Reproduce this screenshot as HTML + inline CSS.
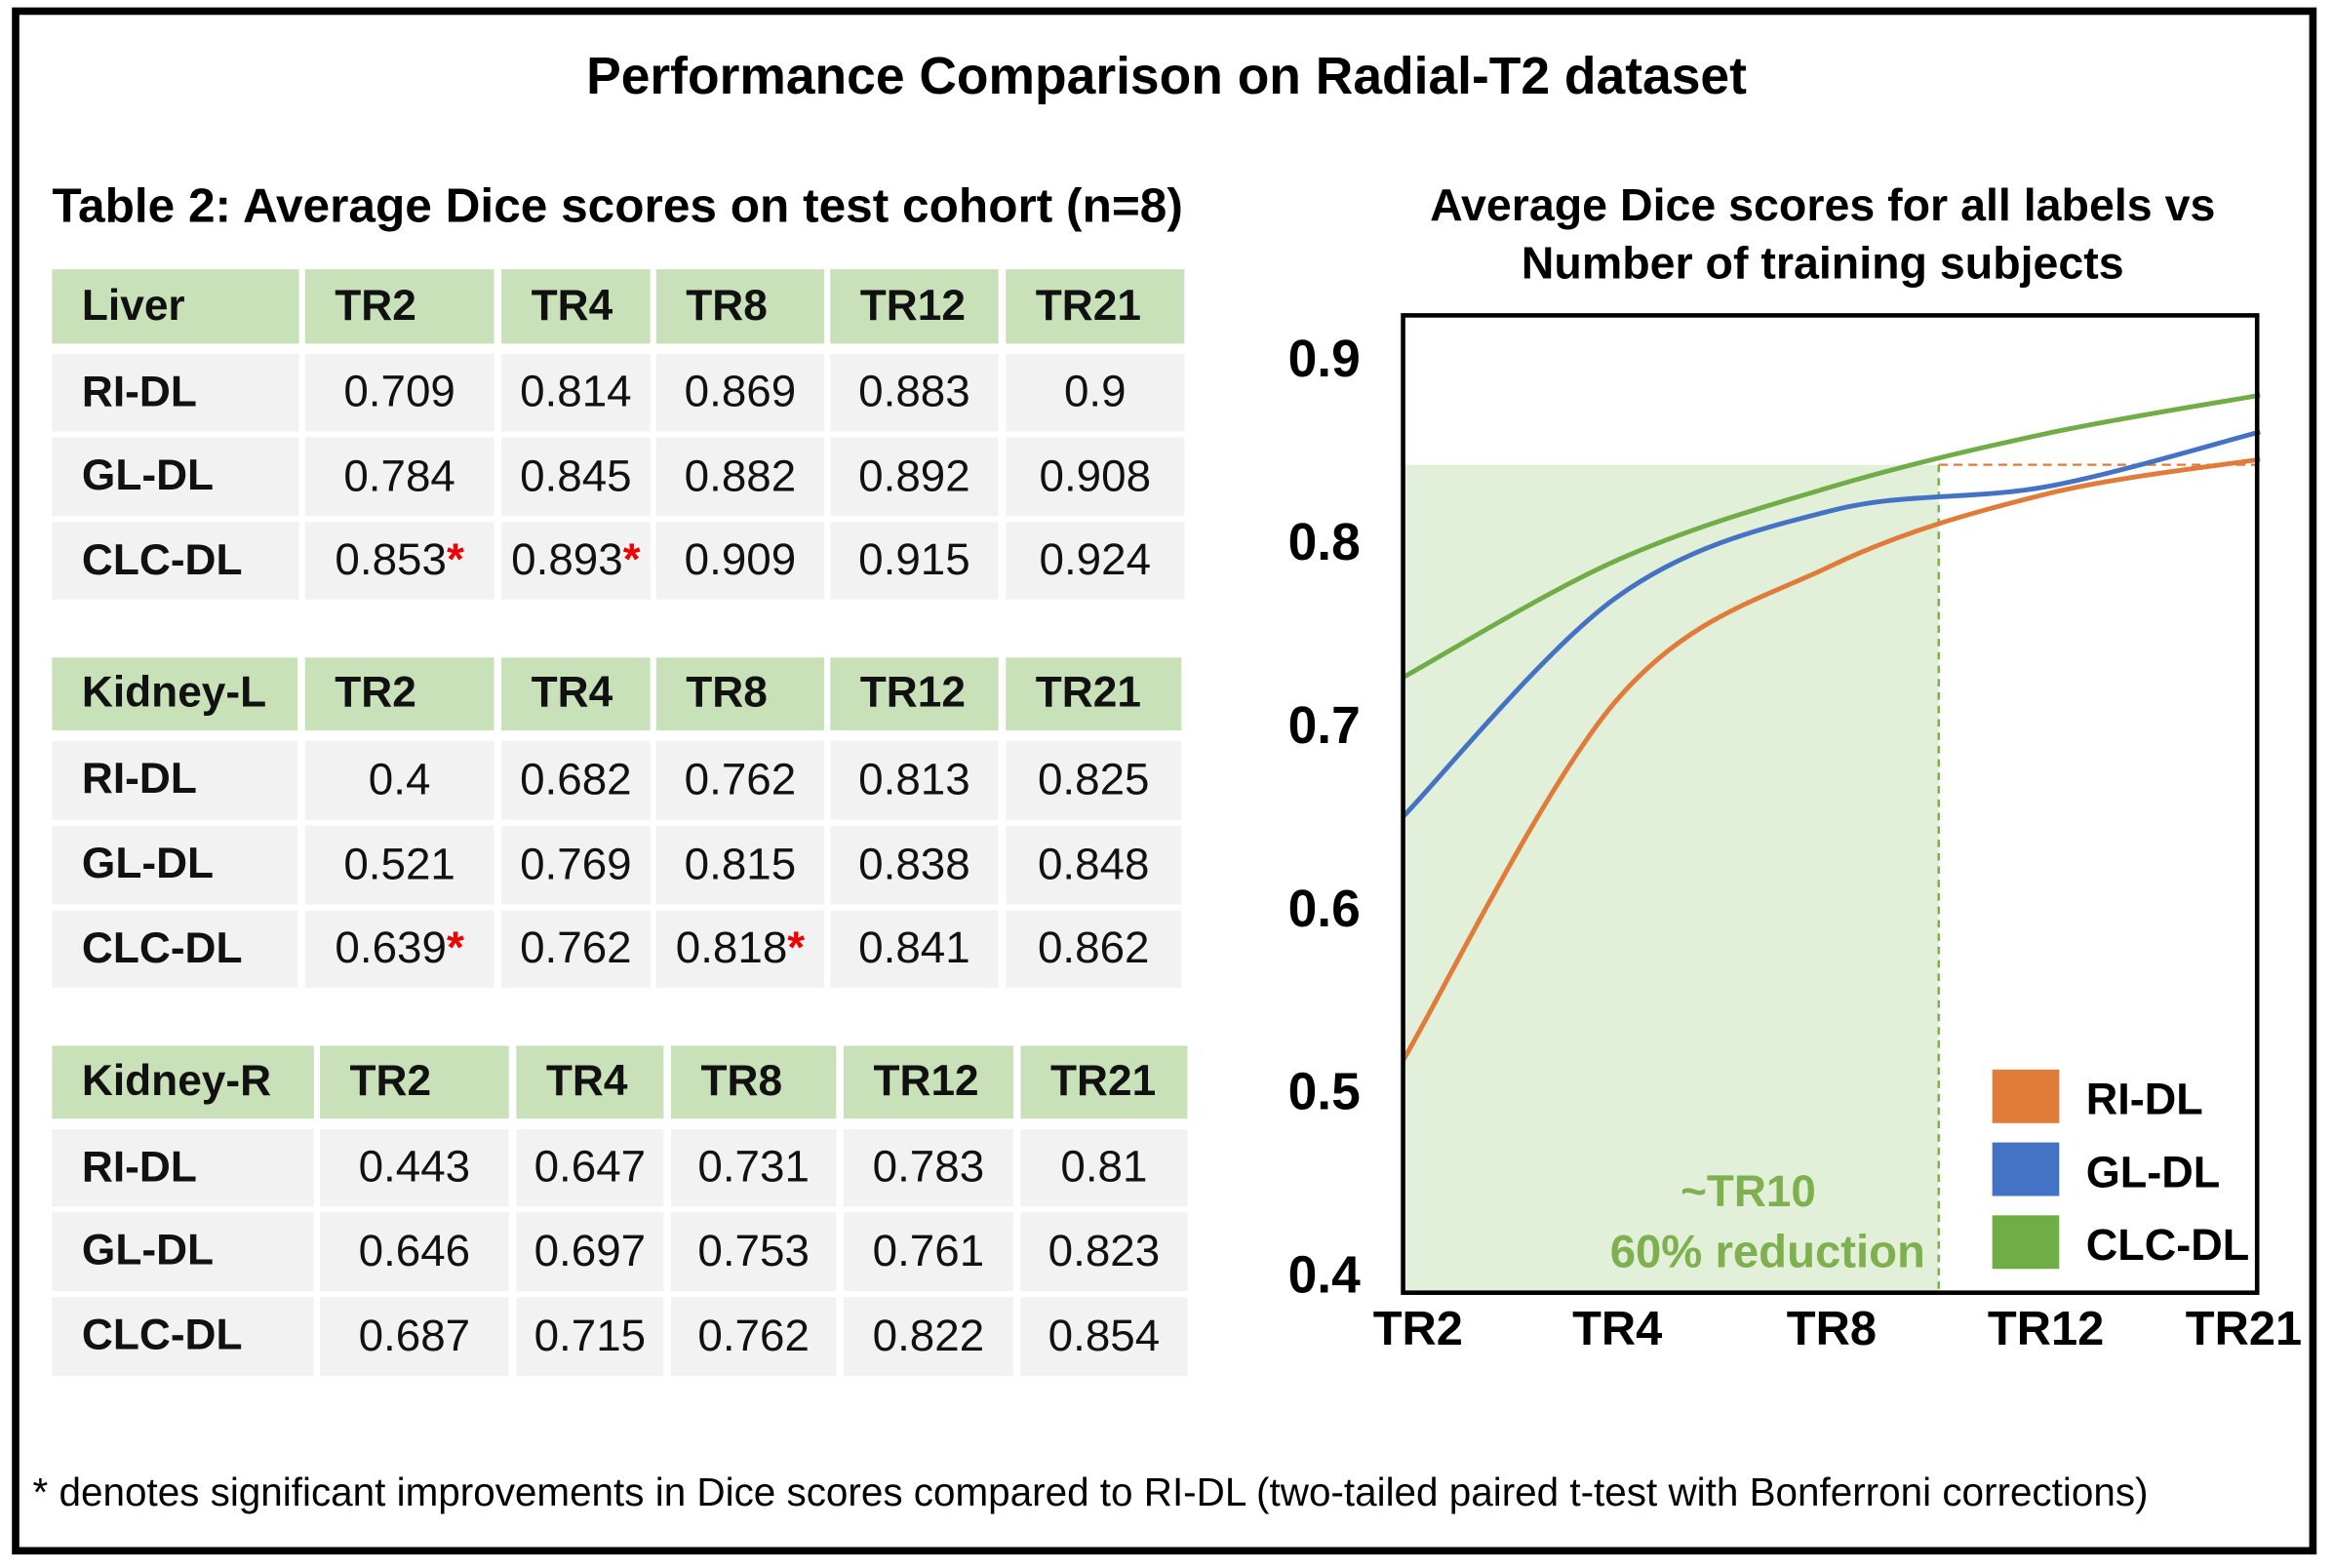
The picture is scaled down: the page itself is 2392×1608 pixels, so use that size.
<!DOCTYPE html>
<html><head><meta charset="utf-8">
<style>
html,body{margin:0;padding:0;background:#fff;}
body{width:2392px;height:1608px;overflow:hidden;font-family:"Liberation Sans",Arial,sans-serif;}
#wrap{position:absolute;left:0;top:0;width:1568px;height:1054px;transform:scale(1.52551);transform-origin:0 0;}
#frame{position:absolute;left:8px;top:5px;width:1539px;height:1030px;border:5px solid #000;}
.t{position:absolute;white-space:nowrap;color:#000;}
.cell{position:absolute;display:flex;align-items:center;font-size:30px;color:#111;box-sizing:border-box;}
.hd{background:#c9e1b8;font-weight:bold;font-size:29px;}
.bd{background:#f2f2f2;}
.lab{font-weight:bold;padding-left:20px;font-size:29px;}
.num{justify-content:center;}
.star{color:#e00;font-weight:bold;}
</style></head>
<body>
<div id="wrap">
<div id="frame"></div>
<div class="t" style="left:0;width:1568px;text-align:center;top:32px;font-size:35px;font-weight:bold;">Performance Comparison on Radial-T2 dataset</div>
<div class="t" style="left:35px;top:120px;font-size:32.5px;font-weight:bold;">Table 2: Average Dice scores on test cohort (n=8)</div>
<div id="tables"></div>
<div class="t" style="left:925px;width:600px;text-align:center;top:119px;font-size:30.5px;font-weight:bold;line-height:39px;">Average Dice scores for all labels vs<br>Number of training subjects</div>
<svg id="chart" width="1568" height="1054" style="position:absolute;left:0;top:0;"></svg>
<div class="t" style="left:22px;top:988px;font-size:26.5px;">* denotes significant improvements in Dice scores compared to RI-DL (two-tailed paired t-test with Bonferroni corrections)</div>
</div>
<script>
// ---- Table data ----
var tableLabels = ["Liver","Kidney-L","Kidney-R"];
var tableCols = ["TR2","TR4","TR8","TR12","TR21"];
var methods = ["RI-DL","GL-DL","CLC-DL"];
var liverVals = [["0.709","0.814","0.869","0.883","0.9"],["0.784","0.845","0.882","0.892","0.908"],["0.853*","0.893*","0.909","0.915","0.924"]];
var kidneyLVals = [["0.4","0.682","0.762","0.813","0.825"],["0.521","0.769","0.815","0.838","0.848"],["0.639*","0.762","0.818*","0.841","0.862"]];
var kidneyRVals = [["0.443","0.647","0.731","0.783","0.81"],["0.646","0.697","0.753","0.761","0.823"],["0.687","0.715","0.762","0.822","0.854"]];
var allVals=[liverVals,kidneyLVals,kidneyRVals];
var layouts=[
 {cols:[[35,201],[205,332],[337,437],[441,554],[558,671],[676,796]],rows:[[181,231],[238,290],[294,347],[351,403]]},
 {cols:[[35,200],[205,332],[337,437],[441,554],[558,671],[676,794]],rows:[[442,491],[498,551],[555,608],[612,664]]},
 {cols:[[35,211],[215,342],[347,446],[451,562],[567,681],[686,798]],rows:[[703,752],[759,811],[815,868],[872,925]]}];
var tb=document.getElementById('tables');
function mk(L,c,r,cls,html){var d=document.createElement('div');d.className='cell '+cls;
 d.style.left=L.cols[c][0]+'px';d.style.width=(L.cols[c][1]-L.cols[c][0])+'px';
 d.style.top=L.rows[r][0]+'px';d.style.height=(L.rows[r][1]-L.rows[r][0])+'px';d.innerHTML=html;tb.appendChild(d);return d;}
for(var t=0;t<3;t++){var L=layouts[t];
 var h=mk(L,0,0,'hd lab',tableLabels[t]);
 
 
 for(var c=0;c<5;c++){var hc=mk(L,c+1,0,'hd lab',tableCols[c]);
  
  }
 for(var r=0;r<3;r++){var m=mk(L,0,r+1,'bd lab',methods[r]);
  
  
  for(var c=0;c<5;c++){var v=allVals[t][r][c];var html=v.replace('*','<span class="star">*</span>');
   var vc=mk(L,c+1,r+1,'bd num',html);
   
   }}
}
// ---- Chart data ----
var categories = ["TR2","TR4","TR8","TR12","TR21"];
var riValues = [0.517,0.714,0.787,0.826,0.845];
var glValues = [0.650,0.770,0.817,0.830,0.860];
var clcValues = [0.726,0.790,0.830,0.859,0.880];
var yTicks = [0.4,0.5,0.6,0.7,0.8,0.9];
var seriesNames = ["RI-DL","GL-DL","CLC-DL"];
var seriesColors = ["#e07b39","#4472c4","#70ad47"];
var thresholdIndex = 2.5; // ~TR10 between TR8 and TR12
var thresholdValue = 0.842;

var svg=document.getElementById('chart');var NS='http://www.w3.org/2000/svg';
var PX0=943,PX1=1519,PY0=857,PY1=241;
function xs(i){return PX0+(PX1-PX0)*i/(categories.length-1);}
function ys(v){return PY0+(v-0.4)/(0.9-0.4)*(PY1-PY0);}
function el(tag,attrs){var e=document.createElementNS(NS,tag);for(var k in attrs)e.setAttribute(k,attrs[k]);svg.appendChild(e);return e;}
var tx=xs(thresholdIndex);
var sh=el('rect',{x:943,y:ys(thresholdValue),width:tx-943,height:869-ys(thresholdValue),fill:'#e2efd9'});


var vl=el('line',{x1:tx,x2:tx,y1:ys(thresholdValue),y2:869,stroke:'#70ad47','stroke-width':1.5,'stroke-dasharray':'5,4'});


var hl=el('line',{x1:tx,x2:1517,y1:ys(thresholdValue),y2:ys(thresholdValue),stroke:'#e07b39','stroke-width':1.5,'stroke-dasharray':'6,4'});


function pathFor(vals){var p=vals.map(function(v,i){return [xs(i),ys(v)];});var d='M'+p[0][0]+','+p[0][1];
 for(var i=0;i<p.length-1;i++){var p0=p[i-1]||p[i],p1=p[i],p2=p[i+1],p3=p[i+2]||p2;
  var c1=[p1[0]+(p2[0]-p0[0])/6,p1[1]+(p2[1]-p0[1])/6],c2=[p2[0]-(p3[0]-p1[0])/6,p2[1]-(p3[1]-p1[1])/6];
  d+=' C'+c1[0]+','+c1[1]+' '+c2[0]+','+c2[1]+' '+p2[0]+','+p2[1];}return d;}
[riValues,glValues,clcValues].forEach(function(vals,k){
 var ln=el('path',{d:pathFor(vals),fill:'none',stroke:seriesColors[k],'stroke-width':3.2});
 
 
});
var box=el('rect',{x:943,y:212,width:574,height:657,fill:'none',stroke:'#000','stroke-width':3});


yTicks.forEach(function(v){var t=el('text',{x:890,y:ys(v)+12,'text-anchor':'middle','font-size':35,'font-weight':'bold','font-family':'Liberation Sans, sans-serif'});t.textContent=v.toFixed(1);
 
 });
categories.forEach(function(c,i){var x=Math.min(Math.max(xs(i),953),1508);var t=el('text',{x:x,y:904,'text-anchor':'middle','font-size':32,'font-weight':'bold','font-family':'Liberation Sans, sans-serif'});t.textContent=c;
 
 });
var a1=el('text',{x:1175,y:811,'text-anchor':'middle','font-size':30,'font-weight':'bold',fill:'#7fb050','font-family':'Liberation Sans, sans-serif'});a1.textContent='~TR10';


var a2=el('text',{x:1188,y:852,'text-anchor':'middle','font-size':31,'font-weight':'bold',fill:'#7fb050','font-family':'Liberation Sans, sans-serif'});a2.textContent='60% reduction';


seriesNames.forEach(function(n,k){var y=719+k*49;
 var s=el('rect',{x:1339,y:y,width:45,height:36,fill:seriesColors[k]});
 
 
 var t=el('text',{x:1402,y:y+30,'font-size':29.5,'font-weight':'bold','font-family':'Liberation Sans, sans-serif'});t.textContent=n;
 
 });
</script>
</body></html>
